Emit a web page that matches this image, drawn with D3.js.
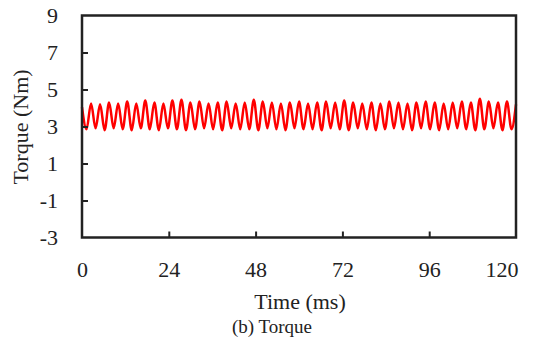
<!DOCTYPE html>
<html><head><meta charset="utf-8">
<script src="https://cdn.jsdelivr.net/npm/d3@7"></script>
<style>
html,body{margin:0;padding:0;background:#fff;}
text{font-family:"Liberation Serif","Times New Roman",serif;}
</style></head>
<body>
<svg id="chart" width="538" height="348"></svg>
<script>
const timeMs = [0,1.25,2.5,3.75,5,6.25,7.5,8.75,10,11.25,12.5,13.75,15,16.25,17.5,18.75,20,21.25,22.5,23.75,
25,26.25,27.5,28.75,30,31.25,32.5,33.75,35,36.25,37.5,38.75,40,41.25,42.5,43.75,45,46.25,47.5,48.75,
50,51.25,52.5,53.75,55,56.25,57.5,58.75,60,61.25,62.5,63.75,65,66.25,67.5,68.75,70,71.25,72.5,73.75,
75,76.25,77.5,78.75,80,81.25,82.5,83.75,85,86.25,87.5,88.75,90,91.25,92.5,93.75,95,96.25,97.5,98.75,
100,101.25,102.5,103.75,105,106.25,107.5,108.75,110,111.25,112.5,113.75,115,116.25,117.5,118.75,120];
const torque = [4.05,2.85,4.25,2.9,4.2,2.8,4.3,2.9,4.25,2.85,4.35,2.8,4.25,2.9,4.4,2.85,4.3,2.8,4.25,2.9,
4.4,2.85,4.45,2.8,4.3,2.85,4.35,2.9,4.25,2.85,4.3,2.8,4.35,2.9,4.25,2.85,4.3,2.85,4.45,2.8,
4.35,2.9,4.3,2.85,4.25,2.8,4.3,2.9,4.35,2.85,4.25,2.85,4.3,2.8,4.35,2.9,4.3,2.85,4.4,2.8,
4.3,2.9,4.25,2.85,4.3,2.8,4.25,2.85,4.35,2.9,4.3,2.85,4.25,2.8,4.3,2.9,4.35,2.85,4.3,2.8,
4.25,2.85,4.3,2.9,4.35,2.85,4.3,2.8,4.5,2.85,4.35,2.9,4.3,2.8,4.35,2.85,4.2];
const xTicks = [0,24,48,72,96,120];
const yTicks = [-3,-1,1,3,5,7,9];
const xTitle = "Time (ms)";
const yTitle = "Torque (Nm)";
const caption = "(b) Torque";

const ink = "#222";
const svg = d3.select("#chart");
const L = 82, R = 516, T = 15.5, B = 237.5;
const x = d3.scaleLinear().domain([0,120]).range([L,R]);
const y = d3.scaleLinear().domain([-3,9]).range([B,T]);

const data = timeMs.map((t,i)=>({t, v: torque[i]}));

svg.append("path").datum(data)
  .attr("fill","none").attr("stroke","#ff0000").attr("stroke-width",2.5)
  .attr("stroke-linejoin","round")
  .attr("d", d3.line().x(d=>x(d.t)).y(d=>y(d.v)).curve(d3.curveMonotoneX));

svg.append("rect").attr("x",L).attr("y",T).attr("width",R-L).attr("height",B-T)
  .attr("fill","none").attr("stroke",ink).attr("stroke-width",2.5);

const fmt = d => String(d);
const xAxis = svg.append("g").attr("transform",`translate(0,${B})`)
  .call(d3.axisBottom(x).tickValues(xTicks).tickSize(-6).tickPadding(24).tickFormat(fmt));
const yAxis = svg.append("g").attr("transform",`translate(${L},0)`)
  .call(d3.axisLeft(y).tickValues(yTicks).tickSize(-6).tickPadding(24).tickFormat(fmt));
[xAxis,yAxis].forEach(g=>{
  g.select(".domain").remove();
  g.selectAll(".tick line").attr("stroke",ink).attr("stroke-width",2);
  g.selectAll(".tick text").style("font-family","Liberation Serif, serif").style("font-size","22px").attr("fill",ink);
});
xAxis.selectAll(".tick").filter(d=>d===0||d===120).select("line").remove();
xAxis.selectAll(".tick").filter(d=>d===120).select("text").attr("text-anchor","end").attr("x",2);
yAxis.selectAll(".tick").filter(d=>d===-3||d===9).select("line").remove();

svg.append("text").attr("x",300).attr("y",309).attr("text-anchor","middle")
  .attr("fill",ink).style("font-size","22px").text(xTitle);
svg.append("text").attr("x",272).attr("y",333).attr("text-anchor","middle")
  .attr("fill",ink).style("font-size","19px").text(caption);
svg.append("text").attr("transform","translate(28,127) rotate(-90)").attr("text-anchor","middle")
  .attr("fill",ink).style("font-size","22px").text(yTitle);
</script>
</body></html>
